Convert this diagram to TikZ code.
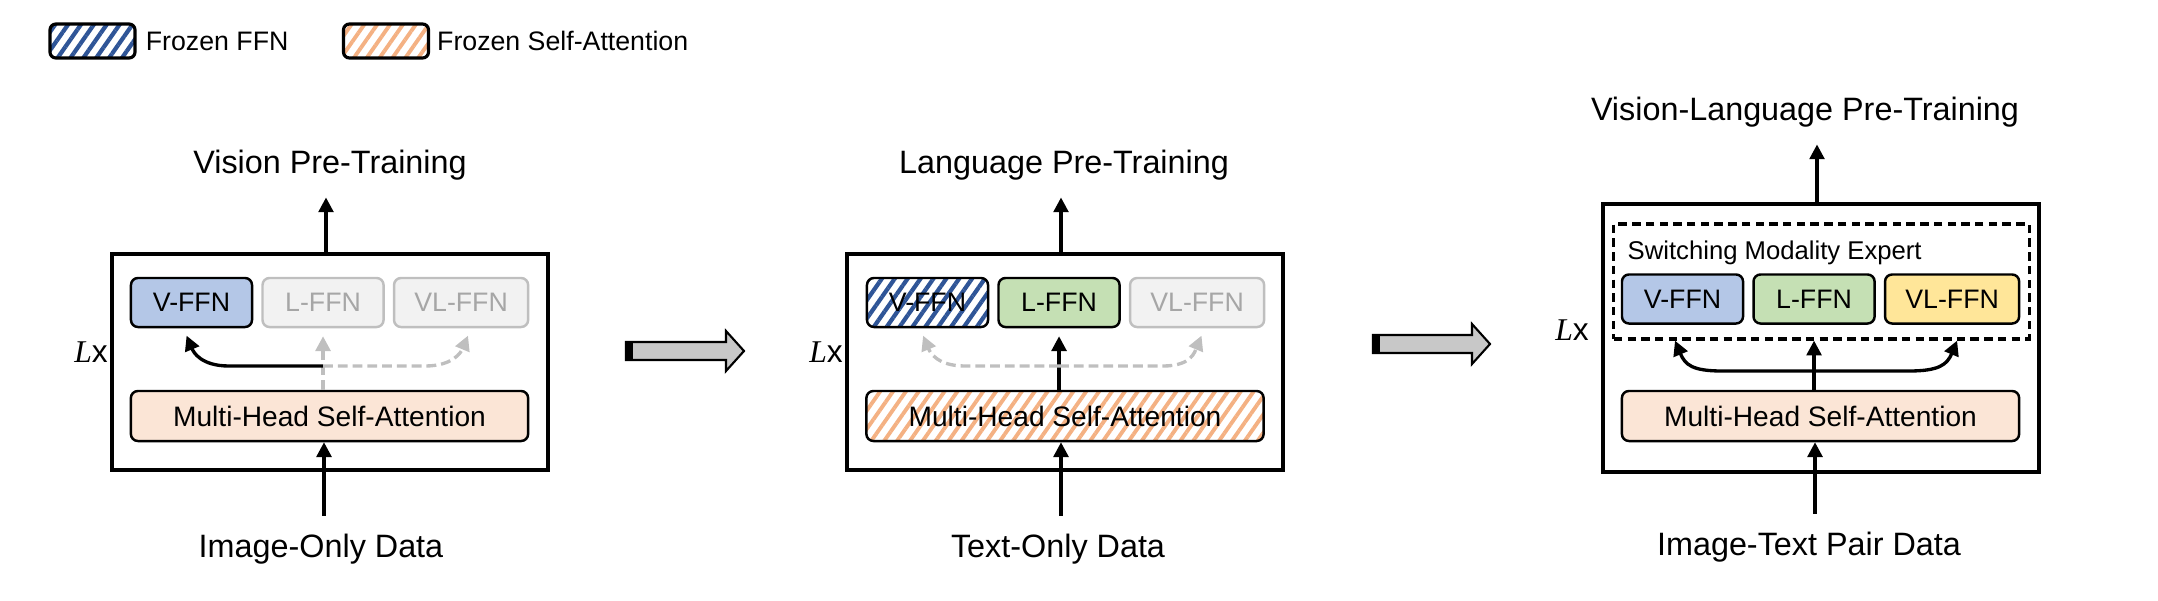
\documentclass[tikz,border=0pt]{standalone}
\usepackage{fontspec}
\setmainfont{Liberation Sans}
\newfontfamily\lxfont{Liberation Serif}
\usetikzlibrary{positioning, arrows.meta, patterns.meta}
\definecolor{vblue}{HTML}{B4C7E7}
\definecolor{lgreen}{HTML}{C5E0B4}
\definecolor{vlyellow}{HTML}{FFE699}
\definecolor{attnfill}{HTML}{FBE5D6}
\definecolor{offfill}{HTML}{F2F2F2}
\definecolor{offline}{HTML}{BFBFBF}
\definecolor{offtext}{HTML}{A6A6A6}
\definecolor{hatchblue}{HTML}{2F5597}
\definecolor{hatchorange}{HTML}{F4B183}
\definecolor{shaft}{HTML}{C8C8C8}
\tikzset{
	>={Triangle[length=4.2pt,width=4.2pt]}, % arrow heads
	layer/.style={draw, line width=1pt, minimum width=4.36cm, minimum height=2.16cm}, % the block repeated L times
	ffn/.style={draw, rounded corners=0.07cm, line width=0.7pt, minimum width=1.21cm, minimum height=0.49cm, inner sep=0pt, font=\fontsize{7.6}{9}\selectfont}, % one expert
	vffn/.style={ffn, fill=vblue},
	lffn/.style={ffn, fill=lgreen},
	vlffn/.style={ffn, fill=vlyellow, minimum width=1.34cm},
	offffn/.style={ffn, draw=offline, fill=offfill, text=offtext}, % expert not used
	frozenffn/.style={ffn, pattern={Lines[angle=55,distance=3pt,line width=1.2pt]}, pattern color=hatchblue},
	attn/.style={draw, rounded corners=0.07cm, line width=0.7pt, minimum width=3.97cm, minimum height=0.5cm, inner sep=0pt, font=\fontsize{8}{10}\selectfont},
	frozenattn/.style={attn, pattern={Lines[angle=55,distance=3pt,line width=1.1pt]}, pattern color=hatchorange},
	expert/.style={draw, line width=0.9pt, dash pattern=on 2.4pt off 1.5pt, minimum width=4.15cm, minimum height=1.15cm}, % switching box
	title/.style={font=\fontsize{9.2}{11}\selectfont, anchor=base, inner sep=2pt}, % texts above and below
	legbox/.style={draw, rounded corners=0.06cm, line width=0.9pt, minimum width=0.85cm, minimum height=0.34cm},
	legtext/.style={font=\fontsize{7.6}{9}\selectfont, inner sep=0pt},
	lx/.style={font=\fontsize{9}{11}\selectfont, inner sep=0pt},
	route/.style={->, line width=0.95pt}, % path taken
	offroute/.style={->, line width=0.95pt, draw=offline, dash pattern=on 2.8pt off 1.4pt}, % path not taken
	up/.style={->, line width=0.95pt, shorten >=0.1cm},
	bigarrow/.style={draw, line width=0.6pt, fill=shaft},
}
\begin{document}
\begin{tikzpicture}[x=0.01cm, y=-0.01cm]
	\useasboundingbox (0,0) rectangle (2158,600);
	% legend
	\node[legbox, pattern={Lines[angle=55,distance=3pt,line width=1.2pt]}, pattern color=hatchblue] (legffn) at (92.5,41) {};
	\node[legtext, right=0.08cm of legffn] (legffntxt) {Frozen FFN};
	\node[legbox, pattern={Lines[angle=55,distance=3pt,line width=1.1pt]}, pattern color=hatchorange] (legsa) at (386,41) {};
	\node[legtext, right=0.06cm of legsa] (legsatxt) {Frozen Self-Attention};

	% vision pre-training
	\node[layer] (box1) at (330,362) {};
	\node[vffn] (v1) at (191.5,302.5) {V-FFN};
	\node[offffn, right=0.08cm of v1] (l1) {L-FFN};
	\node[offffn, minimum width=1.34cm, right=0.08cm of l1] (vl1) {VL-FFN};
	\node[attn, fill=attnfill] (mhsa1) at (329.5,416) {Multi-Head Self-Attention};
	\node[title] (title1) at (330,173) {Vision Pre-Training};
	\node[title] (data1) at (321,557) {Image-Only Data};
	\node[lx] (lx1) at (91,352) {{\lxfont\itshape L}x};
	\coordinate (hub1) at (l1.south |- 0,366);
	\draw[up] (box1.north -| 326,0) -- (title1.south -| 326,0);
	\draw[route, shorten <=0.1cm] (data1.north -| 324,0) -- (mhsa1.south -| 324,0);
	\draw[offroute, shorten >=0.08cm] (l1.south |- mhsa1.north) -- (l1.south);
	\draw[route, shorten >=0.08cm] (hub1) -- ++(-94,0) .. controls +(-28,0) and +(10,24) .. ([xshift=-0.08cm]v1.south);
	\draw[offroute, shorten >=0.08cm] (hub1) -- ++(102,0) .. controls +(28,0) and +(-10,24) .. ([xshift=0.1cm]vl1.south);

	% language pre-training
	\node[layer] (box2) at (1065,362) {};
	\node[frozenffn] (v2) at (927.5,302.5) {V-FFN};
	\node[lffn, right=0.08cm of v2] (l2) {L-FFN};
	\node[offffn, minimum width=1.34cm, right=0.08cm of l2] (vl2) {VL-FFN};
	\node[frozenattn] (mhsa2) at (1065,416) {Multi-Head Self-Attention};
	\node[title] (title2) at (1064,173) {Language Pre-Training};
	\node[title] (data2) at (1058,557) {Text-Only Data};
	\node[lx] (lx2) at (826,352) {{\lxfont\itshape L}x};
	\coordinate (hub2) at (l2.south |- 0,366);
	\draw[up] (box2.north -| 1061,0) -- (title2.south -| 1061,0);
	\draw[route, shorten <=0.1cm] (data2.north -| 1061,0) -- (mhsa2.south -| 1061,0);
	\draw[route, shorten >=0.08cm] (l2.south |- mhsa2.north) -- (l2.south);
	\draw[offroute, shorten >=0.08cm] (hub2) -- ++(-94,0) .. controls +(-28,0) and +(10,24) .. ([xshift=-0.075cm]v2.south);
	\draw[offroute, shorten >=0.08cm] (hub2) -- ++(104,0) .. controls +(28,0) and +(-10,24) .. ([xshift=0.075cm]vl2.south);

	% vision-language pre-training
	\node[layer, minimum height=2.68cm] (box3) at (1821,338) {};
	\node[expert] (exp) at (1821.5,281.5) {};
	\node[vffn] (v3) at (1682.5,299) {V-FFN};
	\node[lffn, right=0.08cm of v3] (l3) {L-FFN};
	\node[vlffn, right=0.08cm of l3] (vl3) {VL-FFN};
	\node[font=\fontsize{7.3}{9}\selectfont, inner sep=0pt, anchor=base west] (swlabel) at (1627,259) {Switching Modality Expert};
	\node[attn, fill=attnfill] (mhsa3) at (1820.5,416) {Multi-Head Self-Attention};
	\node[title] (title3) at (1805,120) {Vision-Language Pre-Training};
	\node[title] (data3) at (1809,555) {Image-Text Pair Data};
	\node[lx] (lx3) at (1572,330) {{\lxfont\itshape L}x};
	\coordinate (hub3) at (l3.south |- 0,371);
	\draw[up] (box3.north -| 1817,0) -- (title3.south -| 1817,0);
	\draw[route, shorten <=0.1cm] (data3.north -| 1815,0) -- (mhsa3.south -| 1815,0);
	\draw[route] (l3.south |- mhsa3.north) -- (l3.south |- exp.south);
	\draw[route] (hub3) -- ++(-92,0) .. controls +(-30,0) and +(10,24) .. ([xshift=-0.075cm]v3.south |- exp.south);
	\draw[route] (hub3) -- ++(95,0) .. controls +(30,0) and +(-10,24) .. ([xshift=0.05cm]vl3.south |- exp.south);

	% arrows between the stages
	\draw[bigarrow] (626,342) -- (726,342) -- (726,331) -- (744,351) -- (726,371) -- (726,360) -- (626,360) -- cycle;
	\fill (626,342) rectangle (633,360);
	\draw[bigarrow] (1373,335) -- (1472,335) -- (1472,324) -- (1490,344) -- (1472,364) -- (1472,353) -- (1373,353) -- cycle;
	\fill (1373,335) rectangle (1380,353);
\end{tikzpicture}
\end{document}
